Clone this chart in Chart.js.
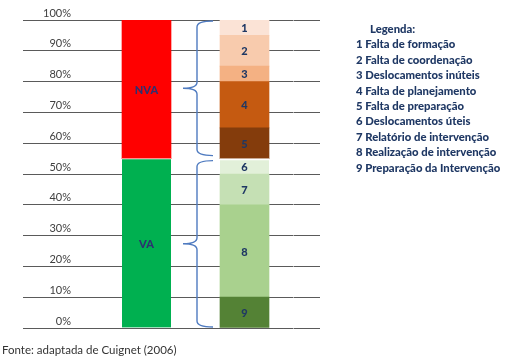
<!DOCTYPE html>
<html><head><meta charset="utf-8">
<script src="https://cdn.jsdelivr.net/npm/chart.js@4.4.1/dist/chart.umd.min.js"></script>
<style>
html,body{margin:0;padding:0;background:#fff;}
#wrap{position:relative;width:515px;height:361px;overflow:hidden;background:#fff;}
canvas{position:absolute;left:0;top:0;}
#legend{position:absolute;left:356px;top:21px;font-family:Lato,sans-serif;font-weight:900;font-size:11.3px;color:#1F3864;line-height:15.4px;white-space:nowrap;}
#legend .t{padding-left:14px;}
#fonte{position:absolute;left:2px;top:343px;font-family:Lato,sans-serif;font-size:11.5px;color:#333;white-space:nowrap;}
</style></head><body>
<div id="wrap"><canvas id="c" width="515" height="361"></canvas>
<div id="legend"></div><div id="fonte">Fonte: adaptada de Cuignet (2006)</div></div>
<script>
// ---- data ----
const categories = ['VA / NVA', 'Atividades'];
const groupLabels = ['VA', 'NVA'];
const groupValues = [55, 45];
const groupColors = ['#00B050', '#FF0000'];
const segmentNumbers = ['9', '8', '7', '6', '5', '4', '3', '2', '1'];
const segmentValues = [10, 30, 10, 5, 10, 15, 5, 10, 5];
const segmentColors = ['#548235', '#A9D18E', '#C5E0B4', '#E2F0D9', '#843C0C', '#C55A11', '#F4B183', '#F8CBAD', '#FBE3D6'];
const legendTitle = 'Legenda:';
const legendItems = [
  '1 Falta de formação',
  '2 Falta de coordenação',
  '3 Deslocamentos inúteis',
  '4 Falta de planejamento',
  '5 Falta de preparação',
  '6 Deslocamentos úteis',
  '7 Relatório de intervenção',
  '8 Realização de intervenção',
  '9 Preparação da Intervenção'
];
const yMin = 0, yMax = 100, yStep = 10;
// brace groups: [from, to] in %
const braceGroups = [[55, 100], [0, 55]];

// ---- legend html ----
const lg = document.getElementById('legend');
const t = document.createElement('div'); t.className = 't'; t.textContent = legendTitle; lg.appendChild(t);
legendItems.forEach(s => { const d = document.createElement('div'); d.textContent = s; lg.appendChild(d); });

// ---- datasets ----
const datasets = [];
groupLabels.forEach((lab, i) => {
  datasets.push({
    label: lab, data: [groupValues[i], null], backgroundColor: groupColors[i],
    borderColor: '#ffffff', borderWidth: i === 0 ? {top: 1, bottom: 0, left: 0, right: 0} : 0,
    borderSkipped: false, _txt: lab, _txtColor: '#2E3070'
  });
});
segmentNumbers.forEach((n, i) => {
  datasets.push({
    label: n, data: [null, segmentValues[i]], backgroundColor: segmentColors[i],
    borderColor: '#ffffff', borderWidth: n === '6' ? {top: 2, bottom: 0, left: 0, right: 0} : 0,
    borderSkipped: false, _txt: n, _txtColor: '#1F3864'
  });
});

const labelPlugin = {
  id: 'segLabels',
  afterDatasetsDraw(chart) {
    const ctx = chart.ctx;
    ctx.save();
    ctx.textAlign = 'center'; ctx.textBaseline = 'middle';
    chart.data.datasets.forEach((ds, di) => {
      const meta = chart.getDatasetMeta(di);
      meta.data.forEach((el, idx) => {
        if (ds.data[idx] == null) return;
        const cy = (el.y + el.base) / 2;
        ctx.font = '900 11px Lato, sans-serif';
        ctx.fillStyle = ds._txtColor;
        ctx.fillText(ds._txt, el.x, cy + 1);
      });
    });
    // braces
    const ys = chart.scales.y;
    const el2 = chart.getDatasetMeta(2).data[1];
    const left2 = el2.x - el2.width / 2;
    const xTip = left2 - 7, xStem = left2 - 23, xPoint = left2 - 37;
    ctx.strokeStyle = '#4F7BC0'; ctx.lineWidth = 1.4;
    braceGroups.forEach(([a, b], gi) => {
      const yTop = ys.getPixelForValue(b) + (gi === 0 ? 1 : 2);
      const yBot = ys.getPixelForValue(a) - (gi === 0 ? 3 : 1);
      const yMid = (yTop + yBot) / 2;
      const r = 6;
      ctx.beginPath();
      ctx.moveTo(xTip, yTop);
      ctx.quadraticCurveTo(xStem, yTop, xStem, yTop + r);
      ctx.lineTo(xStem, yMid - r);
      ctx.quadraticCurveTo(xStem, yMid, xPoint, yMid);
      ctx.moveTo(xPoint, yMid);
      ctx.quadraticCurveTo(xStem, yMid, xStem, yMid + r);
      ctx.lineTo(xStem, yBot - r);
      ctx.quadraticCurveTo(xStem, yBot, xTip, yBot);
      ctx.stroke();
    });
    ctx.restore();
  }
};

new Chart(document.getElementById('c'), {
  type: 'bar',
  data: { labels: categories, datasets },
  options: {
    responsive: false, animation: false,
    layout: { padding: { top: 20, bottom: 33, left: 0, right: 0 } },
    plugins: { legend: { display: false }, tooltip: { enabled: false } },
    datasets: { bar: { barThickness: 49 } },
    scales: {
      x: { stacked: true, display: false },
      y: {
        stacked: true, min: yMin, max: yMax,
        position: 'left',
        border: { display: false },
        grid: { color: '#5a5a5a', lineWidth: 1, drawTicks: true, tickLength: 74.5, tickColor: '#5a5a5a' },
        ticks: {
          stepSize: yStep, padding: -48, labelOffset: -7, crossAlign: 'near',
          color: '#404040', font: { family: 'Lato', size: 11 },
          callback: v => v + '%'
        },
        afterFit: s => { s.width = 97.5; }
      },
      y2: {
        min: yMin, max: yMax, position: 'right',
        border: { display: false },
        grid: { drawOnChartArea: false, drawTicks: true, tickLength: 26.5, tickColor: '#5a5a5a', color: '#5a5a5a' },
        ticks: { stepSize: yStep, display: false },
        afterFit: s => { s.width = 221.5; }
      }
    }
  },
  plugins: [labelPlugin]
});
</script>
</body></html>
